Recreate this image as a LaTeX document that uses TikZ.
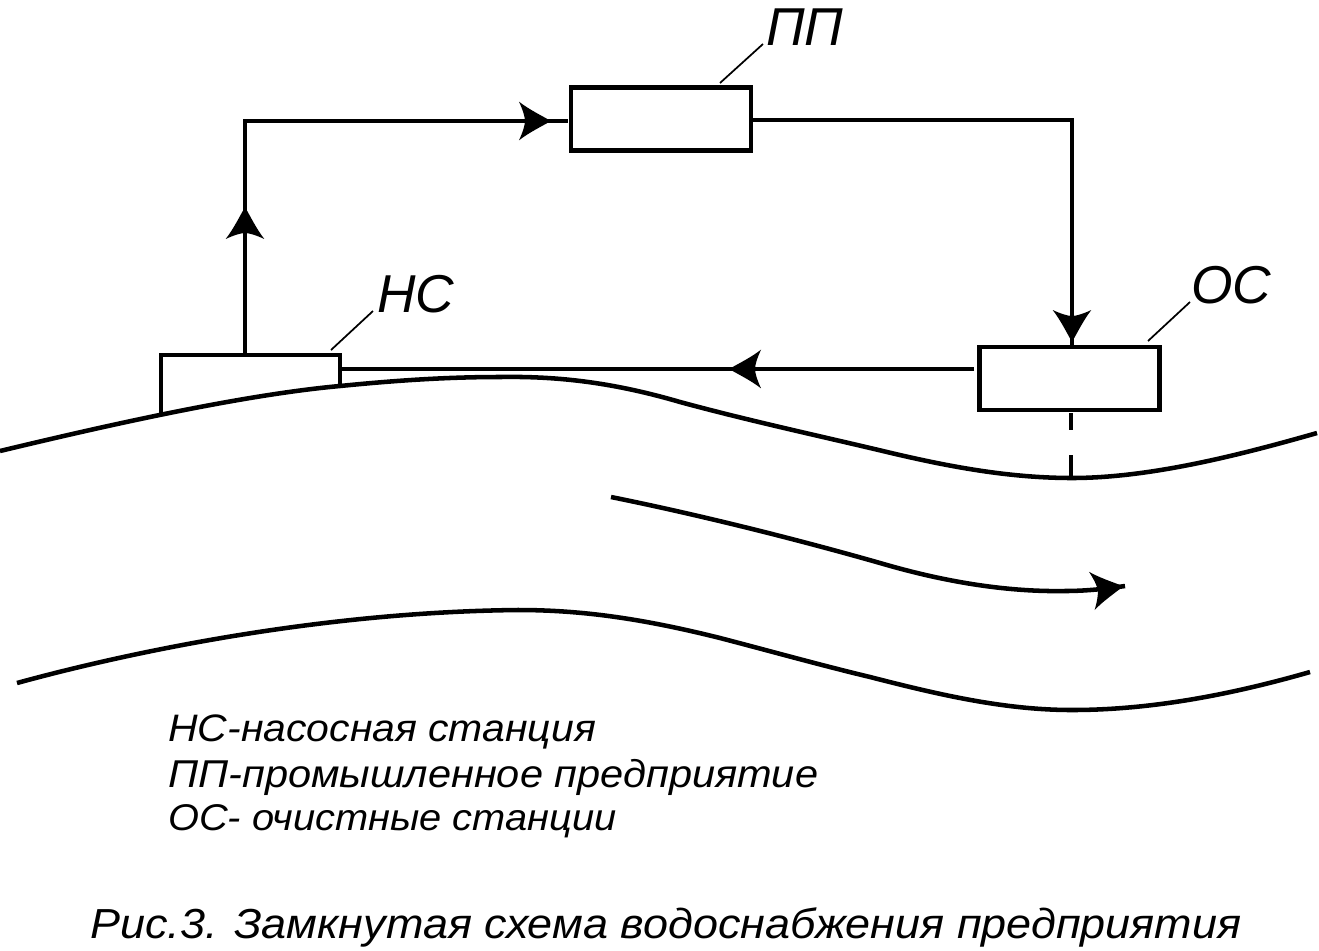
\documentclass[tikz,border=0pt]{standalone}
\usepackage{fontspec}
\setmainfont{Liberation Sans}
\newfontfamily\widefont[FakeStretch=1.07]{Liberation Sans}
\usetikzlibrary{decorations.markings}
\newcommand{\barbhead}{\fill (0pt,0pt) .. controls (-8pt,4.5pt) and (-17pt,9pt) .. (-24pt,14.5pt) .. controls (-21pt,8pt) and (-19.5pt,3pt) .. (-19.5pt,0pt) .. controls (-19.5pt,-3pt) and (-21pt,-8pt) .. (-24pt,-14.5pt) .. controls (-17pt,-9pt) and (-8pt,-4.5pt) .. (0pt,0pt) -- cycle;}
\tikzset{
  x=0.75pt,y=-0.75pt,
  wire/.style={line width=3.2pt,line join=miter},
  bank/.style={line width=3.4pt},
  boxed/.style={draw,line width=3.4pt,rectangle,minimum width=135pt,minimum height=47pt,inner sep=0pt},
  anchorbox/.style={rectangle,minimum width=134pt,minimum height=24pt,inner sep=0pt},
  leader/.style={line width=1.3pt},
  tag/.style={anchor=base west,inner sep=0pt,font=\fontsize{40pt}{40pt}\selectfont\itshape},
  legend/.style={anchor=base west,inner sep=0pt,font=\widefont\fontsize{#1}{29pt}\selectfont\itshape},
  caption/.style={anchor=base west,inner sep=0pt,font=\widefont\fontsize{31.5pt}{32pt}\selectfont\itshape},
  headat/.style={postaction={decorate,decoration={markings,mark=at position #1 with {\barbhead}}}},
  headsat/.style 2 args={postaction={decorate,decoration={markings,mark=at position #1 with {\barbhead},mark=at position #2 with {\barbhead}}}}
}
\begin{document}
\begin{tikzpicture}
\useasboundingbox (0,0) rectangle (1319,950);
% boxes
\node[boxed] (pp) at (661,119) {};
\node[boxed] (os) at (1069.5,378.5) {};
\node[anchorbox] (ns) at (250.5,371) {};
% the NS outline is open at the bottom: it stands on the bank
\coordinate (nsbl) at (161,415);
\coordinate (nsbr) at (340,388);
\coordinate (nstl) at (161,355);
\coordinate (nstr) at (340,355);
\draw[line width=3.4pt,line join=miter] (nsbl) -- (nstl) -- (nstr) -- (nsbr);
% banks
\draw[bank] (0,451) .. controls (100,427) and (240,395) .. (340,386)
  .. controls (400,380) and (450,377) .. (500,377)
  .. controls (560,376) and (615,383) .. (680,402)
  .. controls (750,421) and (820,436) .. (887,452)
  .. controls (950,467) and (1010,478) .. (1072,478)
  .. controls (1150,478) and (1240,455) .. (1317,433);
\draw[bank] (17,683) .. controls (130,652) and (320,612) .. (518,610)
  .. controls (580,610) and (640,618) .. (720,638)
  .. controls (770,651) and (820,665) .. (870,677)
  .. controls (940,695) and (1005,710) .. (1072,710)
  .. controls (1150,710) and (1230,695) .. (1310,672);
\draw[bank,headat=0.997] (611,497) .. controls (700,515) and (800,540) .. (887,565)
  .. controls (950,583) and (1010,592) .. (1065,591)
  .. controls (1085,591) and (1105,589) .. (1125,586);
% connectors
\coordinate (up) at (245,354);
\coordinate (corner1) at (245,121);
\coordinate (ppin) at (568,121);
\coordinate (ppout) at (752,120);
\coordinate (corner2) at (1072,120);
\coordinate (osin) at (1072,345);
\coordinate (osout) at (974,369);
\coordinate (nsin) at (340,369);
\draw[wire,headsat={0.2644}{0.9694}] (up) -- (corner1) -- (ppin);
\draw[wire,headat=0.9945] (ppout) -- (corner2) -- (osin);
\draw[wire,headat=0.3864] (osout) -- (nsin);
% intake, dashed
\coordinate (d1) at (1071,413);
\coordinate (d2) at (1071,430);
\coordinate (d3) at (1071,455);
\coordinate (d4) at (1071,478);
\draw[wire] (d1) -- (d2) (d3) -- (d4);
% labels
\node[tag] (tpp) at (766,45) {ПП};
\node[tag] (tns) at (377,312) {НС};
\node[tag] (tos) at (1191,303) {ОС};
\coordinate (lpp) at (720,83);
\coordinate (lns) at (331,350);
\coordinate (los) at (1148,341);
\draw[leader] (lpp) -- (763,44);
\draw[leader] (lns) -- (373,311);
\draw[leader] (los) -- (1190,302);
\node[legend=28.7pt] (l1) at (168,741) {НС-насосная станция};
\node[legend=29.1pt] (l2) at (168,787) {ПП-промышленное предприятие};
\node[legend=27.9pt] (l3) at (168,830) {ОС- очистные станции};
\node[caption] (cap) at (90,938) {Рис.3. Замкнутая схема водоснабжения предприятия};
\end{tikzpicture}
\end{document}
